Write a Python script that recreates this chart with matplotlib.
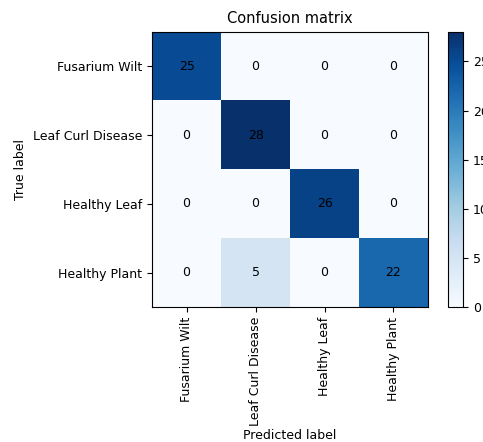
import numpy as np
import matplotlib.pyplot as plt

# классы и матрица ошибок
classes = ['Fusarium Wilt', 'Leaf Curl Disease', 'Healthy Leaf', 'Healthy Plant']
cm = np.array([
    [25, 0, 0, 0],
    [0, 28, 0, 0],
    [0, 0, 26, 0],
    [0, 5, 0, 22],
])

fig = plt.figure(figsize=(4.83, 4.42), dpi=100)
ax = fig.add_axes([0.315, 0.305, 0.571, 0.623])
cax = fig.add_axes([0.928, 0.305, 0.031, 0.623])

im = ax.imshow(cm, interpolation='nearest', cmap=plt.cm.Blues, aspect='auto')
ax.set_title('Confusion matrix', fontsize=10.5)
cb = fig.colorbar(im, cax=cax)
cb.ax.tick_params(labelsize=9)

ticks = np.arange(len(classes))
ax.set_xticks(ticks)
ax.set_xticklabels(classes, rotation=90, fontsize=9)
ax.set_yticks(ticks)
ax.set_yticklabels(classes, fontsize=9)

for i in range(cm.shape[0]):
    for j in range(cm.shape[1]):
        ax.text(j, i, cm[i, j], ha='center', va='center', color='black', fontsize=9)

ax.set_ylabel('True label', fontsize=9)
ax.set_xlabel('Predicted label', fontsize=9, labelpad=2)

fig.savefig('out.png', dpi=100)
